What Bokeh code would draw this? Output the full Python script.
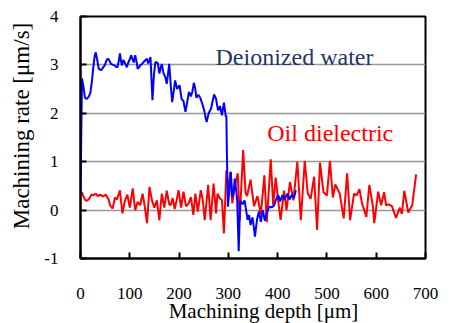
from bokeh.plotting import figure
from bokeh.models import Label, FixedTicker
from bokeh.embed import file_html
from bokeh.resources import INLINE

# Deionized water (blue)
water_x = [0, 3, 6, 9, 13, 17, 20, 23, 26, 29, 31, 34, 37, 42, 46, 49, 53, 56, 59, 62, 66, 69, 72, 75,
           78, 80, 82, 84, 87, 89, 92, 94, 97, 99, 103, 106, 108, 111, 114, 116, 119, 121, 125, 128,
           132, 135, 137, 140, 142, 146, 149, 152, 155, 157, 160, 163, 165, 168, 172, 175, 178, 180,
           183, 186, 189, 192, 196, 199, 201, 205, 209, 213, 216, 220, 224, 227, 230, 233, 235, 239,
           243, 247, 251, 254, 256, 260, 265, 268, 271, 275, 279, 283, 287, 291, 295, 296, 297, 299,
           302, 305, 308, 311, 313, 316, 318, 321, 324, 327, 329, 333, 336, 339, 342, 345, 349, 351,
           354, 358, 362, 366, 370, 374, 378, 383, 386, 390, 393, 396, 401, 405, 410, 414, 420, 424,
           429, 433, 437]
water_y = [0.28, 2.72, 2.55, 2.32, 2.30, 2.35, 2.42, 2.65, 2.95, 3.20, 3.26, 3.10, 2.92, 2.89, 2.95,
           2.99, 3.10, 3.13, 3.08, 3.02, 3.00, 2.99, 2.96, 2.95, 3.10, 3.24, 3.10, 2.99, 3.10, 3.06,
           3.00, 2.95, 3.05, 3.09, 3.20, 3.10, 3.05, 3.20, 3.05, 2.92, 2.95, 2.99, 3.02, 3.06, 3.10,
           3.13, 3.03, 3.10, 3.16, 2.27, 2.80, 3.06, 3.05, 3.03, 2.82, 2.95, 3.02, 2.84, 2.75, 2.61,
           2.85, 3.02, 2.60, 2.23, 2.45, 2.68, 2.50, 2.55, 2.58, 2.30, 2.25, 2.03, 2.20, 2.44, 2.35,
           2.45, 2.63, 2.50, 2.32, 2.38, 2.32, 2.20, 2.06, 1.90, 1.82, 2.00, 2.10, 2.25, 2.39, 2.30,
           2.06, 2.15, 1.96, 2.22, 1.92, 1.95, 1.20, 0.07, 0.40, 0.79, 0.27, 0.40, 0.65, 0.40, 0.17,
           -0.85, 0.20, 0.15, 0.12, 0.20, 0.00, -0.20, -0.10, -0.31, -0.15, -0.30, -0.55, -0.20,
           -0.03, -0.24, 0.00, -0.22, -0.05, 0.07, 0.06, 0.07, 0.10, 0.20, 0.31, 0.18, 0.31, 0.22,
           0.34, 0.22, 0.32, 0.25, 0.41]

# Oil dielectric (red)
oil_x = [0, 3, 6, 10, 13, 18, 23, 26, 28, 31, 35, 40, 45, 51, 57, 60, 65, 70, 74, 80, 85, 90, 95, 100,
         106, 111, 116, 121, 126, 130, 135, 140, 145, 150, 155, 160, 165, 170, 175, 180, 183, 187, 191,
         195, 199, 204, 209, 214, 219, 224, 229, 233, 238, 244, 248, 252, 259, 264, 270, 275, 278, 283,
         287, 291, 296, 300, 304, 308, 313, 319, 323, 330, 335, 338, 345, 352, 359, 366, 373, 378, 386,
         391, 396, 401, 406, 413, 418, 425, 432, 440, 447, 455, 461, 467, 474, 480, 486, 493, 500, 506,
         512, 517, 521, 526, 534, 541, 547, 555, 560, 566, 571, 580, 586, 593, 596, 604, 610, 616, 620,
         625, 632, 640, 648, 652, 657, 665, 673, 681]
oil_y = [0.36, 0.36, 0.28, 0.20, 0.19, 0.24, 0.33, 0.30, 0.32, 0.34, 0.29, 0.32, 0.28, 0.32, 0.22, 0.10,
         0.03, 0.26, 0.22, 0.41, -0.07, 0.19, 0.32, 0.05, 0.45, 0.00, 0.17, 0.10, 0.34, 0.10, -0.27, 0.48,
         0.20, 0.05, 0.20, -0.21, 0.34, 0.05, 0.40, 0.12, 0.10, 0.25, 0.02, 0.20, 0.41, 0.05, 0.38, 0.08,
         0.13, 0.27, -0.10, 0.34, -0.03, 0.41, 0.21, -0.21, 0.52, -0.21, 0.55, -0.07, 0.34, 0.24, 0.21,
         -0.48, 0.82, 0.41, 0.79, 0.14, 0.48, 0.76, -0.21, 1.24, 0.35, 0.29, 0.63, 0.08, 0.29, -0.09, 0.72,
         -0.25, 1.05, 0.10, 0.67, 0.20, -0.20, 0.40, 0.00, 0.58, 0.20, 1.00, -0.21, 1.02, 0.35, 0.23, 0.69,
         -0.41, 0.98, 0.37, 0.30, 1.02, 0.26, 0.53, 0.45, 0.34, -0.17, 0.76, -0.21, 0.34, 0.30, 0.43, 0.15,
         -0.14, 0.52, 0.10, -0.27, 0.38, 0.10, 0.37, 0.10, 0.12, 0.08, -0.16, 0.05, -0.08, 0.40, -0.05,
         0.10, 0.74]

x_ticks = [0, 100, 200, 300, 400, 500, 600, 700]
y_ticks = [-1, 0, 1, 2, 3, 4]

FONT = "Liberation Serif"
NBSP = "\u00a0"

p = figure(frame_width=345, frame_height=242, x_range=(0, 700), y_range=(-1, 4),
           output_backend="svg", toolbar_location=None,
           min_border_left=80, min_border_right=20, min_border_top=16, min_border_bottom=65)

p.outline_line_color = "black"
p.outline_line_width = 2
p.xgrid.grid_line_color = None
p.ygrid.grid_line_color = "#999999"
p.ygrid.grid_line_width = 1.5
p.ygrid.ticker = FixedTicker(ticks=y_ticks)

p.xaxis.ticker = FixedTicker(ticks=x_ticks)
p.yaxis.ticker = FixedTicker(ticks=y_ticks)
p.yaxis.major_label_overrides = {t: str(t) for t in y_ticks}

for ax in (p.xaxis[0], p.yaxis[0]):
    ax.axis_line_color = "black"
    ax.axis_line_width = 2
    ax.major_tick_in = 6
    ax.major_tick_out = 0
    ax.major_tick_line_width = 2
    ax.major_tick_line_color = "black"
    ax.minor_tick_line_color = None
    ax.major_label_text_font = FONT
    ax.major_label_text_font_size = "17px"
    ax.major_label_text_color = "black"
    ax.axis_label_text_font = FONT
    ax.axis_label_text_font_style = "normal"
    ax.axis_label_text_color = "black"

# leading no-break spaces shift the titles slightly off-centre, as in the original
p.xaxis.axis_label = NBSP * 4 + "Machining depth [μm]"
p.xaxis.axis_label_text_font_size = "21px"
p.xaxis.major_label_standoff = 29
p.xaxis.axis_label_standoff = -3

p.yaxis.axis_label = NBSP * 4 + "Machining rate [μm/s]"
p.yaxis.axis_label_text_font_size = "23px"
p.yaxis.major_label_standoff = 22
p.yaxis.axis_label_standoff = 7

p.line(oil_x, oil_y, line_color="#FF0000", line_width=2)
p.line(water_x, water_y, line_color="#0000FF", line_width=2)

p.add_layout(Label(x=274, y=3.17, text="Deionized water", text_font=FONT,
                   text_font_size="24px", text_color="#1F3864", text_baseline="alphabetic"))
p.add_layout(Label(x=379, y=1.60, text="Oil dielectric", text_font=FONT,
                   text_font_size="24px", text_color="#FF0000", text_baseline="alphabetic"))

open("out.html", "w").write(file_html(p, INLINE))
